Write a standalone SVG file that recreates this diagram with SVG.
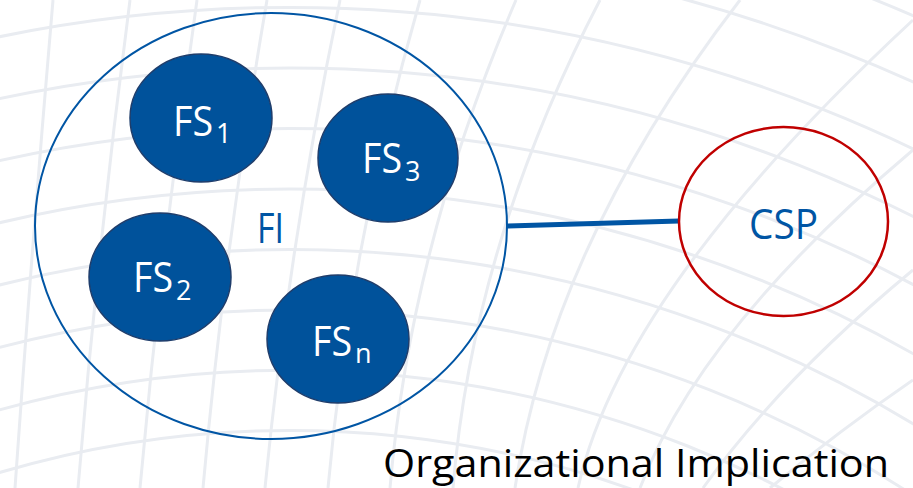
<svg xmlns="http://www.w3.org/2000/svg" width="913" height="488" viewBox="0 0 913 488">
<style>
.grid{fill:none;stroke:#E9ECF1;stroke-width:3}
.fs{fill:#00529B;stroke:#1F3D6B;stroke-width:1.5}
.fst{fill:#FFFFFF;font-family:"Open Sans","Noto Sans",sans-serif;font-size:42px}
.sub{fill:#FFFFFF;font-family:"Open Sans","Noto Sans",sans-serif;font-size:27px}
.blue{fill:#0055A4;font-family:"Open Sans","Noto Sans",sans-serif;font-size:42px}
</style>
<rect width="913" height="488" fill="#FFFFFF"/>
<g id="background-grid">
<circle class="grid" cx="290" cy="1450" r="1563.8"/>
<circle class="grid" cx="290" cy="1450" r="1503.2"/>
<circle class="grid" cx="290" cy="1450" r="1442.6"/>
<circle class="grid" cx="290" cy="1450" r="1382"/>
<circle class="grid" cx="290" cy="1450" r="1321.5"/>
<circle class="grid" cx="290" cy="1450" r="1261"/>
<circle class="grid" cx="290" cy="1450" r="1200.5"/>
<circle class="grid" cx="290" cy="1450" r="1140.1"/>
<circle class="grid" cx="290" cy="1450" r="1079.8"/>
<circle class="grid" cx="290" cy="1450" r="1019.6"/>
<path class="grid" d="M15,488 Q32,244 53,0"/>
<path class="grid" d="M78,488 Q98,244 130,0"/>
<path class="grid" d="M140,488 Q162,244 197,0"/>
<path class="grid" d="M203,488 Q225,244 267,0"/>
<path class="grid" d="M265,488 Q289,244 340,0"/>
<path class="grid" d="M328,488 Q350,244 420,0"/>
<path class="grid" d="M390,488 Q411,244 516,0"/>
<path class="grid" d="M453,488 Q473,244 600,0"/>
<path class="grid" d="M515,488 Q552,244 740,0"/>
<path class="grid" d="M578,488 Q622,290 913,20"/>
<path class="grid" d="M640,488 Q700,330 913,150"/>
<path class="grid" d="M703,488 Q780,380 913,270"/>
<path class="grid" d="M770,488 Q840,430 913,380"/>
</g>
<g id="connectors">
<line x1="507" y1="226" x2="679" y2="221" stroke="#0055A4" stroke-width="5"/>
</g>
<g id="node-FI">
<ellipse cx="271" cy="226" rx="236" ry="213" fill="none" stroke="#0055A4" stroke-width="2"/>
<text class="blue" x="257" y="243" textLength="27" lengthAdjust="spacingAndGlyphs">FI</text>
</g>
<g id="node-FS1">
<ellipse class="fs" cx="201" cy="118" rx="71" ry="64"/>
<text class="fst" x="173" y="136" textLength="40" lengthAdjust="spacingAndGlyphs">FS</text>
<text class="sub" x="216" y="143">1</text>
</g>
<g id="node-FS3">
<ellipse class="fs" cx="388" cy="158" rx="70" ry="64"/>
<text class="fst" x="362" y="173" textLength="40" lengthAdjust="spacingAndGlyphs">FS</text>
<text class="sub" x="405" y="181">3</text>
</g>
<g id="node-FS2">
<ellipse class="fs" cx="160" cy="277" rx="71" ry="64"/>
<text class="fst" x="133" y="292" textLength="40" lengthAdjust="spacingAndGlyphs">FS</text>
<text class="sub" x="176" y="300">2</text>
</g>
<g id="node-FSn">
<ellipse class="fs" cx="338" cy="339" rx="71" ry="64"/>
<text class="fst" x="312" y="356" textLength="40" lengthAdjust="spacingAndGlyphs">FS</text>
<text class="sub" x="355" y="363">n</text>
</g>
<g id="node-CSP">
<ellipse cx="783.5" cy="221.5" rx="104.5" ry="94.5" fill="none" stroke="#C00000" stroke-width="2.5"/>
<text class="blue" x="749" y="239" textLength="69" lengthAdjust="spacingAndGlyphs">CSP</text>
</g>
<g id="caption">
<text x="383" y="477" fill="#000000" font-family="'Open Sans','Noto Sans',sans-serif" font-size="38" textLength="506" lengthAdjust="spacingAndGlyphs">Organizational Implication</text>
</g>
</svg>
